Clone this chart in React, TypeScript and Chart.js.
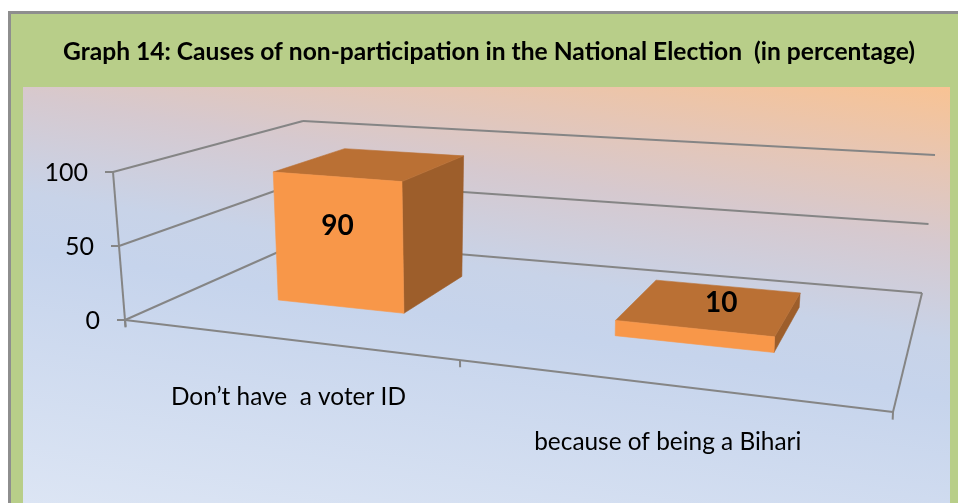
import { useEffect, useRef } from "react";
import { Chart, registerables } from "chart.js";

Chart.register(...registerables);

// ---------- data ----------
const TITLE = "Graph 14: Causes of non-participation in the National Election  (in percentage)";
const CATEGORIES = ["Don\u2019t have  a voter ID", "because of being a Bihari"];
const VALUES = [90, 10];
const Y_TICKS = [0, 50, 100];
const Y_MIN = 0;
const Y_MAX = 100;

// ---------- style / geometry ----------
const FONT = "Lato, 'Open Sans', sans-serif";
const GRID = "#858585";
const FRONT = "#F89749";
const TOP = "#BA7034";
const SIDE = "#9D5E2B";
// floor quad (front-left, front-right, back-right, back-left)
const FLOOR: number[][] = [[125, 320], [893, 412], [922, 293], [303, 241]];
// vertical (full height) vectors at each floor corner
const HV_FL = [-12, -148];
const HV_FR = [7, -170];
const HV_BR = [13, -138];
const HV_BL = [0, -120];
const BAR_D0 = 0.32;
const BAR_D1 = 0.74;

function makeHomography(p: number[][]) {
  const [x0, y0] = p[0], [x1, y1] = p[1], [x2, y2] = p[2], [x3, y3] = p[3];
  const dx1 = x1 - x2, dy1 = y1 - y2;
  const dx2 = x3 - x2, dy2 = y3 - y2;
  const dx3 = x0 - x1 + x2 - x3, dy3 = y0 - y1 + y2 - y3;
  const den = dx1 * dy2 - dx2 * dy1;
  const g = (dx3 * dy2 - dx2 * dy3) / den;
  const h = (dx1 * dy3 - dx3 * dy1) / den;
  const a = x1 - x0 + g * x1, b = x3 - x0 + h * x3, c = x0;
  const d = y1 - y0 + g * y1, e = y3 - y0 + h * y3, f = y0;
  return (u: number, v: number) => {
    const w = g * u + h * v + 1;
    return [(a * u + b * v + c) / w, (d * u + e * v + f) / w];
  };
}
const floorMap = makeHomography(FLOOR);

function P(u: number, h: number, d: number) {
  const f = floorMap(u, d);
  const fx = HV_FL[0] + u * (HV_FR[0] - HV_FL[0]);
  const fy = HV_FL[1] + u * (HV_FR[1] - HV_FL[1]);
  const bx = HV_BL[0] + u * (HV_BR[0] - HV_BL[0]);
  const by = HV_BL[1] + u * (HV_BR[1] - HV_BL[1]);
  const vx = fx + d * (bx - fx);
  const vy = fy + d * (by - fy);
  return [f[0] + h * vx, f[1] + h * vy];
}

function line(ctx: CanvasRenderingContext2D, a: number[], b: number[]) {
  ctx.beginPath();
  ctx.moveTo(a[0], a[1]);
  ctx.lineTo(b[0], b[1]);
  ctx.stroke();
}

function poly(ctx: CanvasRenderingContext2D, pts: number[][], fill: string) {
  ctx.beginPath();
  ctx.moveTo(pts[0][0], pts[0][1]);
  for (let i = 1; i < pts.length; i++) ctx.lineTo(pts[i][0], pts[i][1]);
  ctx.closePath();
  ctx.fillStyle = fill;
  ctx.fill();
  ctx.strokeStyle = fill;
  ctx.lineWidth = 0.6;
  ctx.stroke();
}

const pseudo3d = {
  id: "pseudo3d",
  beforeDraw(chart: any) {
    const ctx: CanvasRenderingContext2D = chart.ctx;
    const W = chart.width, Hh = chart.height;
    ctx.save();
    ctx.fillStyle = "#ffffff";
    ctx.fillRect(0, 0, W, Hh);
    ctx.fillStyle = "#8E8E8E";
    ctx.fillRect(8, 11, W - 8, Hh - 11);
    ctx.fillStyle = "#B8CE89";
    ctx.fillRect(11, 14, W - 11, Hh - 14);
    // inner panel gradient
    const g = ctx.createLinearGradient(23, 503, 111.7, -47.7);
    g.addColorStop(0, "#DCE5F4");
    g.addColorStop(0.45, "#C6D4EC");
    g.addColorStop(0.55, "#C8D3E8");
    g.addColorStop(0.72, "#D6C9CF");
    g.addColorStop(0.85, "#E6C6B5");
    g.addColorStop(1, "#F8C394");
    ctx.fillStyle = g;
    ctx.fillRect(23, 87, 927, Hh - 87);
    // title
    ctx.fillStyle = "#000";
    ctx.font = `bold 24.6px ${FONT}`;
    ctx.textAlign = "center";
    ctx.textBaseline = "middle";
    ctx.fillText(TITLE, 489, 52);
    ctx.restore();
  },
  beforeDatasetsDraw(chart: any) {
    const ctx: CanvasRenderingContext2D = chart.ctx;
    const area = chart.chartArea;
    const xs = chart.scales.x;
    const ys = chart.scales.y;
    const U = (px: number) => (px - area.left) / (area.right - area.left);
    const Hn = (py: number) => (area.bottom - py) / (area.bottom - area.top);

    ctx.save();
    ctx.strokeStyle = GRID;
    ctx.lineWidth = 2;
    ctx.lineCap = "butt";

    // walls gridlines
    for (const t of Y_TICKS) {
      const h = Hn(ys.getPixelForValue(t));
      line(ctx, P(0, h, 0), P(0, h, 1));
      line(ctx, P(0, h, 1), P(1, h, 1));
    }
    // floor outline
    line(ctx, P(0, 0, 0), P(1, 0, 0));
    line(ctx, P(1, 0, 0), P(1, 0, 1));
    // value axis
    line(ctx, P(0, -0.05, 0), P(0, 1, 0));
    // y ticks + labels
    ctx.fillStyle = "#000";
    ctx.font = `25px ${FONT}`;
    ctx.textAlign = "right";
    ctx.textBaseline = "middle";
    for (const t of Y_TICKS) {
      const h = Hn(ys.getPixelForValue(t));
      const p = P(0, h, 0);
      line(ctx, [p[0] - 8, p[1]], p);
      ctx.fillText(String(t), p[0] - 25, p[1] + 1);
    }
    // category ticks
    const n = CATEGORIES.length;
    for (let i = 0; i <= n; i++) {
      const u = i / n;
      line(ctx, P(u, 0, 0), P(u, -0.045, 0));
    }
    // category labels
    ctx.font = `24.4px ${FONT}`;
    ctx.textAlign = "center";
    CATEGORIES.forEach((c, i) => {
      const u = U(xs.getPixelForValue(i));
      const p = P(u, 0, 0);
      ctx.fillText(c, p[0] + 6, p[1] + 58);
    });

    // bars
    const meta = chart.getDatasetMeta(0);
    meta.data.forEach((el: any, i: number) => {
      const u0 = U(el.x - el.width / 2);
      const u1 = U(el.x + el.width / 2);
      const h1 = Hn(el.y);
      const h0 = Hn(el.base);
      const d0 = BAR_D0, d1 = BAR_D1;
      // right side
      poly(ctx, [P(u1, h0, d0), P(u1, h0, d1), P(u1, h1, d1), P(u1, h1, d0)], SIDE);
      // top
      poly(ctx, [P(u0, h1, d0), P(u1, h1, d0), P(u1, h1, d1), P(u0, h1, d1)], TOP);
      // front
      poly(ctx, [P(u0, h0, d0), P(u1, h0, d0), P(u1, h1, d0), P(u0, h1, d0)], FRONT);

      // data label
      const uc = (u0 + u1) / 2;
      const frontPx = P(uc, h0, d0)[1] - P(uc, h1, d0)[1];
      let lp: number[];
      if (frontPx > 50) lp = P(uc, h0 + (h1 - h0) * 0.62, d0);
      else lp = P(uc + 0.01, h1, (d0 + d1) / 2 + 0.04);
      ctx.fillStyle = "#000";
      ctx.font = `bold 28px ${FONT}`;
      ctx.textAlign = "center";
      ctx.textBaseline = "middle";
      ctx.fillText(String(VALUES[i]), lp[0], lp[1]);
    });

    ctx.restore();
    return false;
  },
};

export default function App() {
  const ref = useRef<HTMLCanvasElement>(null);
  useEffect(() => {
    if (!ref.current) return;
    const chart = new Chart(ref.current, {
      type: "bar",
      data: {
        labels: CATEGORIES,
        datasets: [{ data: VALUES, backgroundColor: FRONT }],
      },
      options: {
        responsive: false,
        animation: false,
        layout: { padding: 0 },
        categoryPercentage: 0.8,
        barPercentage: 0.5,
        plugins: {
          legend: { display: false },
          title: { display: false },
          tooltip: { enabled: false },
        },
        scales: {
          x: { display: false },
          y: { display: false, min: Y_MIN, max: Y_MAX },
        },
      } as any,
      plugins: [pseudo3d as any],
    });
    return () => chart.destroy();
  }, []);
  return (
    <div style={{ position: "fixed", left: 0, top: 0, width: 958, height: 503 }}>
      <canvas ref={ref} width={958} height={503} style={{ display: "block", width: 958, height: 503 }} />
    </div>
  );
}
